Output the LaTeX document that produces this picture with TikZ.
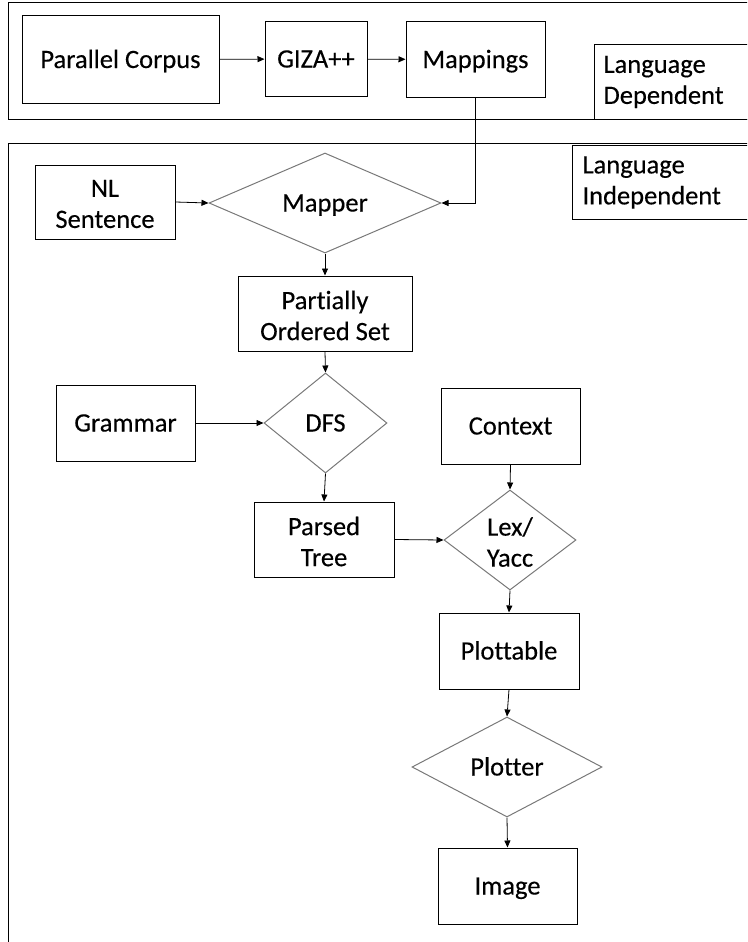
\documentclass[tikz,border=0pt]{standalone}
\usepackage{fontspec}
\setmainfont{Carlito}[Ligatures={NoCommon},FakeBold=0.3]
\usetikzlibrary{arrows.meta,shapes.geometric}
\definecolor{dgray}{RGB}{120,120,120}
\begin{document}
\begin{tikzpicture}[x=1pt,y=-1pt,
  every node/.style={font=\fontsize{26.5}{31}\selectfont},
  box/.style={draw=black,line width=1pt,rectangle,inner sep=0pt},
  dia/.style={draw=dgray,line width=1pt,diamond,inner sep=0pt},
  txt/.style={label={[inner sep=0pt,align=center,yshift=-2pt,text height=19pt,text depth=6pt]center:#1}},
  txtm/.style={label={[inner sep=0pt,align=center,yshift=-2pt]center:#1}},
  lbl/.style={draw=black,line width=1pt,rectangle,inner sep=0pt,align=left,text width=#1},
  arr/.style={-{Triangle[length=7pt,width=6pt]},line width=0.8pt,black},
  frame/.style={draw=black,line width=1pt}]
\useasboundingbox (0,0) rectangle (747,942);
\clip (0,0) rectangle (747,942);
% frames
\draw[frame] (760,3) -- (8,3) -- (8,119) -- (760,119);
\draw[frame] (760,143) -- (8,143) -- (8,960);
% top row
\node[box,minimum width=197,minimum height=87,txt={Parallel Corpus}] (pc) at (120.5,59.5) {};
\node[box,minimum width=102,minimum height=74,txt={GIZA++}] (giza) at (316,59) {};
\node[box,minimum width=139,minimum height=75,txt={Mappings}] (map) at (475.5,59.5) {};
\node[lbl=160pt,minimum height=75,anchor=north west,fill=white] (ld) at (594,44) {\hspace*{9pt}Language\\\hspace*{9pt}Dependent};
\node[lbl=180pt,minimum height=74,anchor=north west,fill=white] (li) at (572,145) {\hspace*{10pt}Language\\\hspace*{10pt}Independent};
% lower
\node[box,minimum width=140,minimum height=74,txtm={NL\\Sentence}] (nl) at (105,202) {};
\node[dia,minimum width=232,minimum height=100,txt={Mapper}] (mapper) at (325,203) {};
\node[box,minimum width=174,minimum height=75,txtm={Partially\\Ordered Set}] (pos) at (325,313.5) {};
\node[dia,minimum width=123,minimum height=100,txt={DFS}] (dfs) at (325.5,423) {};
\node[box,minimum width=139,minimum height=76,txt={Grammar}] (gram) at (125.5,423) {};
\node[box,minimum width=139,minimum height=76,txt={Context}] (ctx) at (510.5,426) {};
\node[dia,minimum width=132,minimum height=100,txtm={Lex/\\Yacc}] (lex) at (510,540) {};
\node[box,minimum width=140,minimum height=75,txtm={Parsed\\Tree}] (pt) at (324,539.5) {};
\node[box,minimum width=140,minimum height=76,txt={Plottable}] (plot) at (509,651) {};
\node[dia,minimum width=190,minimum height=100,txt={Plotter}] (plotter) at (507,767) {};
\node[box,minimum width=139,minimum height=76,txt={Image}] (img) at (507.5,886) {};
% connectors
\draw[arr] (pc) -- (giza);
\draw[arr] (giza) -- (map);
\draw[arr] (map.south) |- (mapper.east);
\draw[arr] (nl.east) -- (mapper.west);
\draw[arr] (mapper.south) -- (pos.north);
\draw[arr] (pos.south) -- (dfs.north);
\draw[arr] (gram.east) -- (dfs.west);
\draw[arr] (dfs.south) -- (pt.north);
\draw[arr] (ctx.south) -- (lex.north);
\draw[arr] (pt.east) -- (lex.west);
\draw[arr] (lex.south) -- (plot.north);
\draw[arr] (plot.south) -- (plotter.north);
\draw[arr] (plotter.south) -- (img.north);
\end{tikzpicture}
\end{document}
